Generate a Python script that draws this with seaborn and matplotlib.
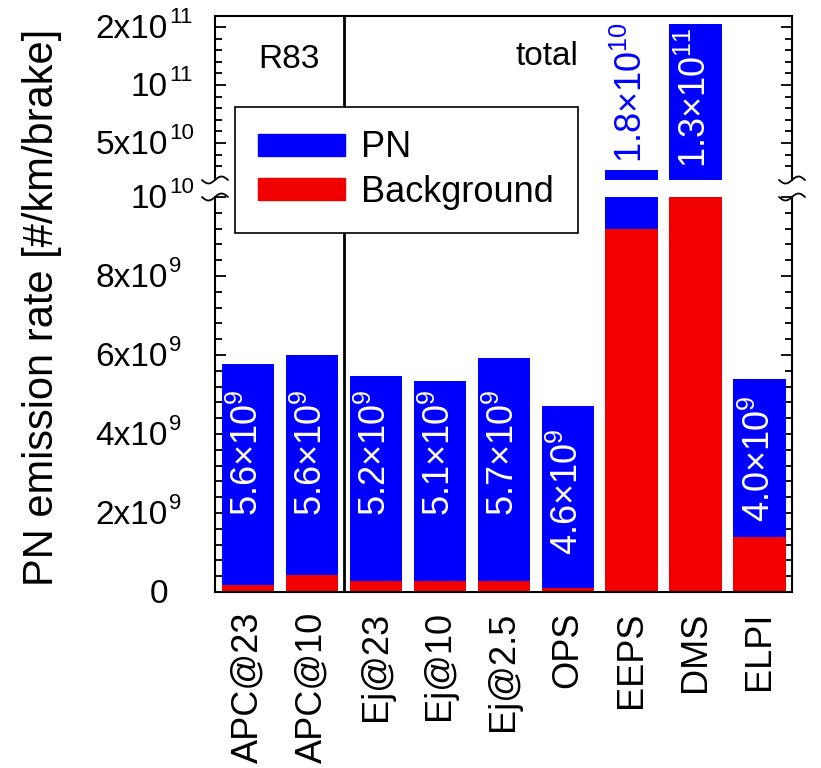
# %%
import numpy as np
import matplotlib
matplotlib.use("Agg")
import matplotlib.pyplot as plt
import seaborn as sns
from matplotlib.patches import Patch
from matplotlib.lines import Line2D

# data
instruments = ['APC@23', 'APC@10', 'Ej@23', 'Ej@10', 'Ej@2.5', 'OPS', 'EEPS', 'DMS', 'ELPI']
background = [0.18e9, 0.42e9, 0.27e9, 0.27e9, 0.27e9, 0.09e9, 9.2e9, 1.6e10, 1.38e9]
pn = [5.6e9, 5.58e9, 5.21e9, 5.06e9, 5.66e9, 4.63e9, 1.75e10, 1.37e11, 4.01e9]
pn_text = ['5.6×10$^{9}$', '5.6×10$^{9}$', '5.2×10$^{9}$', '5.1×10$^{9}$', '5.7×10$^{9}$',
           '4.6×10$^{9}$', '1.8×10$^{10}$', '1.3×10$^{11}$', '4.0×10$^{9}$']
# where each label starts (bottom of rotated text)
label_base = [1.92e9, 1.92e9, 1.92e9, 1.92e9, 1.92e9, 0.93e9, 3.28e10, 2.84e10, 1.76e9]

lo_ticks = [0, 2e9, 4e9, 6e9, 8e9, 1e10]
lo_tick_text = [('0', ''), ('2x10', '9'), ('4x10', '9'), ('6x10', '9'), ('8x10', '9'), ('10', '10')]
hi_ticks = [5e10, 1e11, 1.5e11]
hi_tick_text = [('5x10', '10'), ('10', '11'), ('2x10', '11')]

BLUE = '#0000ff'
RED = '#f20000'

sns.set_style('ticks')
plt.rcParams['font.family'] = ['Liberation Sans', 'DejaVu Sans']
plt.rcParams['mathtext.fontset'] = 'custom'
plt.rcParams['mathtext.rm'] = 'Liberation Sans'
plt.rcParams['mathtext.it'] = 'Liberation Sans:italic'
plt.rcParams['mathtext.bf'] = 'Liberation Sans:bold'
plt.rcParams['text.color'] = 'black'
plt.rcParams['axes.labelcolor'] = 'black'
plt.rcParams['xtick.color'] = 'black'
plt.rcParams['ytick.color'] = 'black'

total = [b + p for b, p in zip(background, pn)]

fig = plt.figure(figsize=(8.21, 7.68), dpi=100)
L, W = 215 / 821, 577 / 821
ax_lo = fig.add_axes([L, 176 / 768, W, 395 / 768])
ax_hi = fig.add_axes([L, 588 / 768, W, 164 / 768])

for ax in (ax_lo, ax_hi):
    sns.barplot(x=instruments, y=total, color=BLUE, saturation=1, width=0.82,
                linewidth=0, ax=ax)
    sns.barplot(x=instruments, y=background, color=RED, saturation=1, width=0.82,
                linewidth=0, ax=ax)
    ax.set_xlim(-0.52, 8.51)
    ax.axvline(1.5, color='black', lw=2.0, zorder=5)
    ax.set_ylabel('')
    for s in ('left', 'right'):
        ax.spines[s].set_linewidth(1.5)
        ax.spines[s].set_color('black')
        ax.spines[s].set_visible(True)

ax_lo.set_ylim(0, 1e10)
ax_lo.spines['top'].set_visible(False)
ax_lo.spines['bottom'].set_linewidth(1.5)
ax_lo.spines['bottom'].set_color('black')
ax_lo.set_yticks(lo_ticks)
ax_lo.set_yticks(np.arange(0, 1.0001e10, 4e8), minor=True)
ax_lo.set_xticks(range(len(instruments)))
ax_lo.set_xticklabels(instruments, rotation=90, fontsize=26, color='black')
ax_lo.tick_params(axis='x', length=0, pad=14)

ax_hi.set_ylim(1.81e10, 1.595e11)
ax_hi.spines['bottom'].set_visible(False)
ax_hi.spines['top'].set_linewidth(1.5)
ax_hi.spines['top'].set_color('black')
ax_hi.set_yticks(hi_ticks)
ax_hi.set_yticks(np.arange(3e10, 1.6e11, 1e10), minor=True)
ax_hi.set_xticks([])
ax_hi.set_xlabel('')

for ax in (ax_lo, ax_hi):
    ax.yaxis.set_ticks_position('both')
    ax.tick_params(axis='y', which='both', direction='in', left=True, right=True,
                   labelleft=False, labelright=False, width=1.3, color='black')
    ax.tick_params(axis='y', which='major', length=8)
    ax.tick_params(axis='y', which='minor', length=5)

# tick labels with raised exponents
def put_labels(ax, vals, texts):
    tr = ax.get_yaxis_transform()
    for v, (base, sup) in zip(vals, texts):
        ax.annotate(base, xy=(0, v), xycoords=tr, xytext=(-34, -2), textcoords='offset points',
                    ha='right', va='center', fontsize=24, annotation_clip=False)
        if sup:
            ax.annotate(sup, xy=(0, v), xycoords=tr, xytext=(-33, 7), textcoords='offset points',
                        ha='left', va='center', fontsize=16, annotation_clip=False)

put_labels(ax_lo, lo_ticks, lo_tick_text)
put_labels(ax_hi, hi_ticks, hi_tick_text)

# value labels inside the bars
for i, (s, yb) in enumerate(zip(pn_text, label_base)):
    ax = ax_lo if yb < 1e10 else ax_hi
    col = BLUE if instruments[i] == 'EEPS' else 'white'
    ax.text(i, yb, s, rotation=90, rotation_mode='anchor', ha='left', va='center',
            color=col, fontsize=26, zorder=6)

ax_hi.text(0.64, 0.683, 'R83', transform=ax_hi.get_xaxis_transform(), ha='center',
           va='baseline', fontsize=24)
ax_hi.text(5.16, 0.70, 'total', transform=ax_hi.get_xaxis_transform(), ha='right',
           va='baseline', fontsize=24)

fig.text(42 / 821, 1 - 307 / 768, 'PN emission rate [#/km/brake]', rotation=90,
         ha='center', va='center', fontsize=30)

# axis break marks
t = np.linspace(-1, 1, 30)
for xs in (215, 792):
    for ys in (180, 197):
        fig.add_artist(Line2D((xs + 13 * t) / 821, (768 - ys + 3.5 * np.sin(np.pi * t)) / 768,
                              color='black', lw=1.3, transform=fig.transFigure))

leg = fig.legend(handles=[Patch(color=BLUE, label='PN'), Patch(color=RED, label='Background')],
                 loc='upper left', bbox_to_anchor=(235 / 821, 1 - 107 / 768), fontsize=26,
                 frameon=True, fancybox=False, framealpha=1, edgecolor='black',
                 borderaxespad=0, borderpad=0.65, handlelength=2.4, handleheight=0.55,
                 handletextpad=0.45, labelspacing=0.25)
leg.get_frame().set_linewidth(1.2)

plt.savefig('out.png', dpi=100)
